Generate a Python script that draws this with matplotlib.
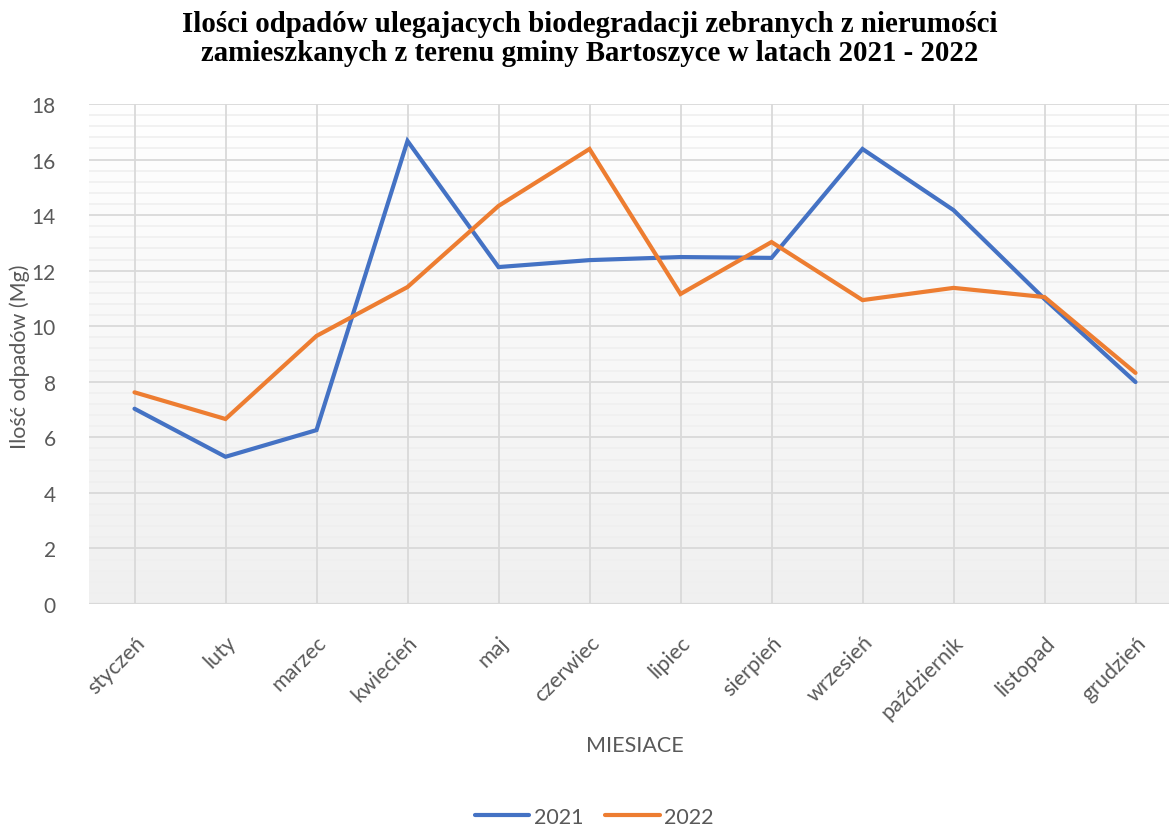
import numpy as np
import matplotlib.pyplot as plt
from matplotlib.colors import LinearSegmentedColormap

months = ['styczeń', 'luty', 'marzec', 'kwiecień', 'maj', 'czerwiec', 'lipiec',
          'sierpień', 'wrzesień', 'październik', 'listopad', 'grudzień']
values_2021 = [7.03, 5.30, 6.26, 16.67, 12.13, 12.38, 12.49, 12.46, 16.38, 14.18, 10.98, 7.99]
values_2022 = [7.62, 6.66, 9.65, 11.41, 14.33, 16.38, 11.16, 13.03, 10.94, 11.38, 11.05, 8.32]
series_labels = ['2021', '2022']

TEXT_GRAY = '#595959'
GRID = '#d9d9d9'

plt.rcParams['font.family'] = ['Lato', 'DejaVu Sans']

fig = plt.figure(figsize=(11.69, 8.28), dpi=100)
# plot area runs slightly past the right edge of the picture, as in the reference
ax = fig.add_axes([89 / 1169, 1 - 605 / 828, 1092 / 1169, 500 / 828])

# vertical gradient background of the plot area (white at top, light gray at bottom)
grad = np.linspace(0, 1, 256).reshape(-1, 1)
cmap = LinearSegmentedColormap.from_list('bg', ['#ffffff', '#f0f0f0'])
ax.imshow(grad, extent=(-0.5, 11.5, 0, 18), origin='upper', aspect='auto',
          cmap=cmap, zorder=0)
ax.set_xlim(-0.5, 11.5)
ax.set_ylim(0, 18)

# grid
for v in np.arange(0, 18.01, 0.4):
    if abs(v - round(v / 2) * 2) > 1e-6:
        ax.axhline(v, color='#efefef', lw=1.2, zorder=1)
for v in range(2, 19, 2):
    ax.axhline(v, color=GRID, lw=1.3, zorder=2)
for i in range(len(months)):
    ax.axvline(i, color=GRID, lw=1.3, zorder=2)
ax.axhline(0, color=GRID, lw=1.6, zorder=2)

x = np.arange(len(months))
ax.plot(x, values_2021, color='#4472C4', lw=3.0, label=series_labels[0],
        solid_capstyle='round', solid_joinstyle='miter', zorder=4)
ax.plot(x, values_2022, color='#ED7D31', lw=3.0, label=series_labels[1],
        solid_capstyle='round', solid_joinstyle='miter', zorder=4)

for s in ax.spines.values():
    s.set_visible(False)

ax.set_yticks(range(0, 19, 2))
ax.set_yticklabels([str(v) for v in range(0, 19, 2)], fontsize=15, color=TEXT_GRAY)
ax.set_xticks(x)
ax.set_xticklabels(months, rotation=45, ha='right', rotation_mode='anchor',
                   fontsize=15.5, color=TEXT_GRAY)
ax.tick_params(axis='both', length=0)
ax.tick_params(axis='y', pad=24)
ax.tick_params(axis='x', pad=20)

fig.text(20 / 1169, 1 - 357 / 828, 'Ilość odpadów (Mg)', rotation=90, ha='center',
         va='center', fontsize=15.5, color=TEXT_GRAY)
fig.text(635 / 1169, 1 - 746 / 828, 'MIESIACE', ha='center', va='center',
         fontsize=15.5, color=TEXT_GRAY)

fig.text(590 / 1169, 1 - 39 / 828,
         'Ilości odpadów ulegajacych biodegradacji zebranych z nierumości\n'
         'zamieszkanych z terenu gminy Bartoszyce w latach 2021 - 2022',
         ha='center', va='center', fontsize=20.8, fontweight='bold',
         family=['Liberation Serif', 'DejaVu Serif'], linespacing=1.12)

leg = fig.legend(loc='center', bbox_to_anchor=(594 / 1169, 1 - 818 / 828), ncol=2,
                 frameon=False, fontsize=15.5, handlelength=2.55, columnspacing=1.0,
                 handletextpad=0.2)
for t in leg.get_texts():
    t.set_color(TEXT_GRAY)

fig.savefig('out.png', dpi=100)
